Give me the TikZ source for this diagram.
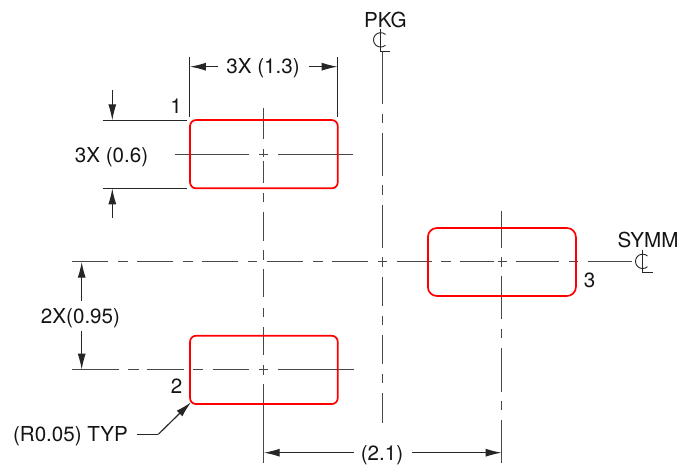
\documentclass[tikz,border=0pt]{standalone}
\usepackage{fontspec}
\setmainfont{TeX Gyre Heros}
\usetikzlibrary{arrows.meta}
\tikzset{
  x=1pt,y=-1pt,
  padbox/.style={draw=red,line width=1.7pt,rounded corners=#1,inner sep=0pt,outer sep=0pt,fill=none},
  padbox/.default=6pt,
  cline/.style={draw=black!72,line width=1.3pt},
  dimline/.style={draw=black!85,line width=1.15pt},
  tipped/.style={dimline,-{Latex[length=16pt,width=8pt]}},
  lbl/.style={font=\fontsize{20.6}{24}\selectfont,inner sep=0pt,text=black!92},
  clsym/.style={draw=black!85,line width=0.9pt}
}
\newcommand{\hsegs}[2]{\foreach \a/\b in {#2}{\draw[cline] (\a,#1) -- (\b,#1);}}
\newcommand{\vsegs}[2]{\foreach \a/\b in {#2}{\draw[cline] (#1,\a) -- (#1,\b);}}
\begin{document}
\begin{tikzpicture}
\useasboundingbox (0,0) rectangle (681,468);
% centre lines
\hsegs{154.5}{175/249.3,259.3/268.3,278.3/353.3}
\hsegs{261.7}{72/108.3,118.3/128.3,137.3/173.3,183.3/192.7,202.3/238.3,248.3/257.3,267.3/303.3,313.3/323.3,332.3/368.3,378.3/386.7,396.7/431.7,441/450.7,460/494,498.3/506.7,516/559.3,569.3/578.3,588.3/631.7}
\hsegs{369.7}{72/119,128.3/139,147.3/184,193.3/203.3,212.7/249.3,259.3/268.3,278.3/354.3}
\vsegs{263.7}{108/139.3,149.3/157.3,161/183.5,193.3/202,212/240.7,250/260,269/297,308/317,327/355,365/375,384/462.7}
\vsegs{382.7}{51.7/104,114/123.3,132.7/176,185/194.7,204.7/248,257.3/266.7,276.7/306,315.7/325.3,335/364.3,374/383.3,393.3/422.7}
\vsegs{501.7}{210.7/247.7,257.3/266.7,276/319.3,329/338.3,348.3/391.7,401/410.3,420/463.3}
% pads
\node[padbox,minimum width=147.7pt,minimum height=68.3pt] (pad1) at (263.9,154.2) {};
\node[padbox,minimum width=147.7pt,minimum height=68.3pt] (pad2) at (263.9,369.9) {};
\node[padbox=9pt,minimum width=148pt,minimum height=68pt] (pad3) at (501.9,262) {};
% labels
\node[lbl] (w) at (263,68.5) {3X (1.3)};
\node[lbl] (h) at (111.5,157) {3X (0.6)};
\node[lbl] (p) at (80.5,318.5) {2X(0.95)};
\node[lbl] (d) at (382,455) {(2.1)};
\node[lbl] (r) at (70.5,436) {(R0.05) TYP};
\node[lbl] (n1) at (176,106) {1};
\node[lbl] (n2) at (176.5,386) {2};
\node[lbl] (n3) at (589.5,280.5) {3};
\node[lbl] (pkg) at (385.3,19.5) {PKG};
\node[lbl] (symm) at (648,240) {SYMM};
% coordinates for dimension lines
\coordinate (wl) at (189.9,66.7);
\coordinate (wr) at (337.7,66.7);
\coordinate (wls) at (218,66.7);
\coordinate (wrs) at (308.7,66.7);
\coordinate (ht) at (112.3,120.4);
\coordinate (hb) at (112.3,188.3);
\coordinate (hts) at (112.3,90);
\coordinate (hbs) at (112.3,218);
\coordinate (pt) at (81.7,261.7);
\coordinate (pb) at (81.7,369.7);
\coordinate (pts) at (81.7,300.7);
\coordinate (pbs) at (81.7,330.7);
\coordinate (dl) at (263.7,452.7);
\coordinate (dr) at (501.7,452.7);
\coordinate (dls) at (354,452.7);
\coordinate (drs) at (411.7,452.7);
\coordinate (ra) at (136.7,434.3);
\coordinate (rb) at (158.3,434.3);
\coordinate (rc) at (191,402.3);
% extension lines
\draw[dimline] (wl |- 0,57.3) -- (wl |- 0,116.7);
\draw[dimline] (wr |- 0,57.3) -- (wr |- 0,116.7);
\draw[dimline] (102.7,120.4) -- (186.7,120.4);
\draw[dimline] (102.7,188.3) -- (186.7,188.3);
% arrows
\draw[tipped] (wls) -- (wl);
\draw[tipped] (wrs) -- (wr);
\draw[tipped] (hts) -- (ht);
\draw[tipped] (hbs) -- (hb);
\draw[tipped] (pts) -- (pt);
\draw[tipped] (pbs) -- (pb);
\draw[tipped] (dls) -- (dl);
\draw[tipped] (drs) -- (dr);
\draw[dimline] (ra) -- (rb);
\draw[tipped] (rb) -- (rc);
% centre-line symbols
\draw[clsym] (380.7,29.3) -- (380.7,51.7) -- (390,51.7);
\draw[clsym] (385.5,34.5) arc[start angle=-48,end angle=-312,radius=7.2];
\draw[clsym] (642.7,250) -- (642.7,272.3) -- (652.7,272.3);
\draw[clsym] (647.5,256) arc[start angle=-48,end angle=-312,radius=7.2];
\end{tikzpicture}
\end{document}
